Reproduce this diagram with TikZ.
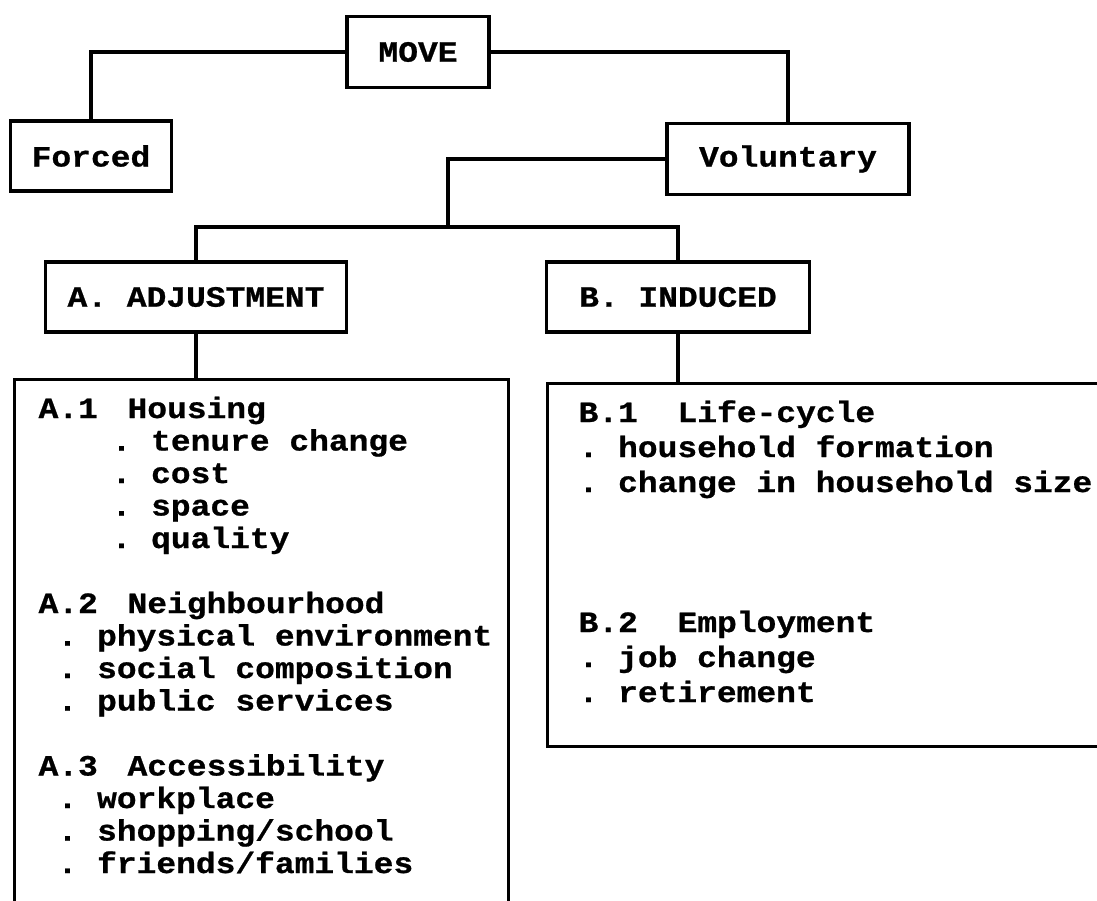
\documentclass[tikz,border=0pt]{standalone}
\usepackage{fontspec}
\newfontfamily\typefont{Liberation Mono}[FakeStretch=1.12, BoldFeatures={FakeBold=0.8}]
\usetikzlibrary{positioning}
\newcommand{\typeset}{\typefont\bfseries\fontsize{14.7}{16.25}\selectfont\frenchspacing}
\newcommand{\secno}[2]{\makebox[#1][l]{#2}}
\tikzstyle{box}=[draw, rectangle, inner sep=0pt, font=\typeset]
\tikzstyle{line}=[inner sep=0pt, anchor=base west, font=\typeset]
\tikzset{every picture/.style={line width=1.6pt}}

\begin{document}
\begin{tikzpicture}[x=0.5pt, y=-0.5pt]
  \clip (0,0) rectangle (1097,900);
  % top of the tree
  \node[box, minimum width=71pt, minimum height=35.5pt] (move) at (418,52) {MOVE};
  \node[box, minimum width=80.5pt, minimum height=35pt] (forced) at (91,156) {Forced};
  \node[box, minimum width=121pt, minimum height=35.5pt] (vol) at (788,159) {Voluntary};
  \node[box, minimum width=150.5pt, minimum height=35pt] (adj) at (196,297) {A. ADJUSTMENT};
  \node[box, minimum width=131.5pt, minimum height=35pt] (ind) at (678,297) {B. INDUCED};
  \coordinate (split) at (448,227);
  % the two lists
  \node[draw, rectangle, anchor=north west, minimum width=247pt, minimum height=280pt] (alist) at (13,378) {};
  \node[draw, rectangle, anchor=north west, minimum width=300pt, minimum height=181.5pt] (blist) at (546,382) {};
  \draw (move.west) -| (forced.north);
  \draw (move.east) -| (vol.north);
  \draw (vol.west) -| (split);
  \draw (adj.north) |- (split) -| (ind.north);
  \draw (adj.south) -- (adj.south |- alist.north);
  \draw (ind.south) -- (ind.south |- blist.north);
  \foreach \k/\x/\txt [count=\i] in {
      0/37/{\secno{44.5pt}{A.1}Housing},
      1/110/{. tenure change},
      2/110/{. cost},
      3/110/{. space},
      4/110/{. quality},
      6/37/{\secno{44.5pt}{A.2}Neighbourhood},
      7/56/{. physical environment},
      8/56/{. social composition},
      9/56/{. public services},
      11/37/{\secno{44.5pt}{A.3}Accessibility},
      12/56/{. workplace},
      13/56/{. shopping/school},
      14/56/{. friends/families}}
    \node[line] (aline-\i) at (\x,418+32.5*\k) {\txt};
  \foreach \k/\txt [count=\i] in {
      0/{\secno{49.5pt}{B.1}Life-cycle},
      1/{. household formation},
      2/{. change in household size},
      6/{\secno{49.5pt}{B.2}Employment},
      7/{. job change},
      8/{. retirement}}
    \node[line] (bline-\i) at (577,422+35*\k) {\txt};
\end{tikzpicture}
\end{document}
